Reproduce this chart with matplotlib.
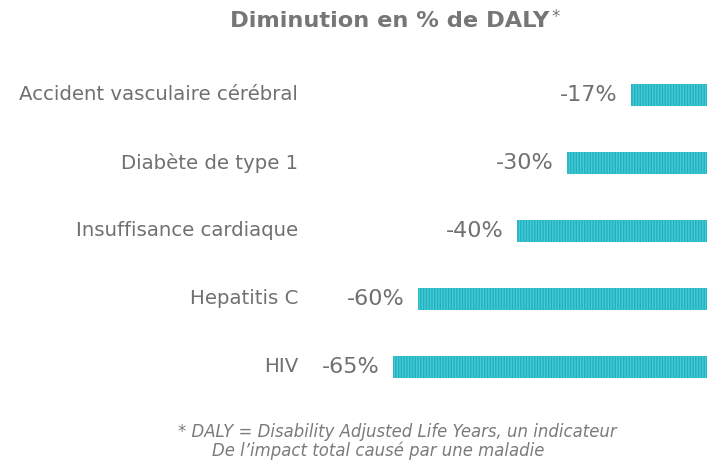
import matplotlib
matplotlib.use("Agg")
import matplotlib.pyplot as plt

categories = ["Accident vasculaire cérébral", "Diabète de type 1", "Insuffisance cardiaque", "Hepatitis C", "HIV"]
values = [-17, -30, -40, -60, -65]
value_labels = ["-17%", "-30%", "-40%", "-60%", "-65%"]

W, H = 707, 468
fig = plt.figure(figsize=(W / 100, H / 100), dpi=100)
fig.patch.set_facecolor("white")

# axes: zero line sits slightly beyond the right edge of the figure
scale = 4.958            # px per percent
zero_px = 715.3
ax_left, ax_right = 310, zero_px
ax_top, ax_bot = 61, 401
ax = fig.add_axes([ax_left / W, 1 - ax_bot / H, (ax_right - ax_left) / W, (ax_bot - ax_top) / H])
ax.set_xlim(-(ax_right - ax_left) / scale, 0)
n = len(categories)
ax.set_ylim(n - 0.5, -0.5)
ax.axis("off")

ypos = list(range(n))
ax.barh(ypos, values, height=0.31, color="#48c9d5", edgecolor="#1fb2c1",
        hatch="||||||", linewidth=0)

text_col = "#707070"
for y, v, lab, cat in zip(ypos, values, value_labels, categories):
    ax.annotate(lab, xy=(v, y), xytext=(-9.5, 0), textcoords="offset points",
                ha="right", va="center", fontsize=16, color=text_col)
    ax.text(298 / W, 1 - (95 + y * 68) / H, cat, transform=fig.transFigure,
            ha="right", va="center", fontsize=14.2, color=text_col)

fig.text(390 / W, 1 - 21 / H, "Diminution en % de DALY", ha="center", va="center",
         fontsize=16.2, fontweight="bold", color="#767676")
fig.text(551 / W, 1 - 17 / H, "*", ha="left", va="center", fontsize=12, color="#767676")

fig.text(397 / W, 1 - 432 / H, "* DALY = Disability Adjusted Life Years, un indicateur",
         ha="center", va="center", fontsize=11.9, style="italic", color="#7a7a7a")
fig.text(378 / W, 1 - 451 / H, "De l\u2019impact total causé par une maladie",
         ha="center", va="center", fontsize=11.9, style="italic", color="#7a7a7a")

fig.savefig("out.png", dpi=100, facecolor="white")
